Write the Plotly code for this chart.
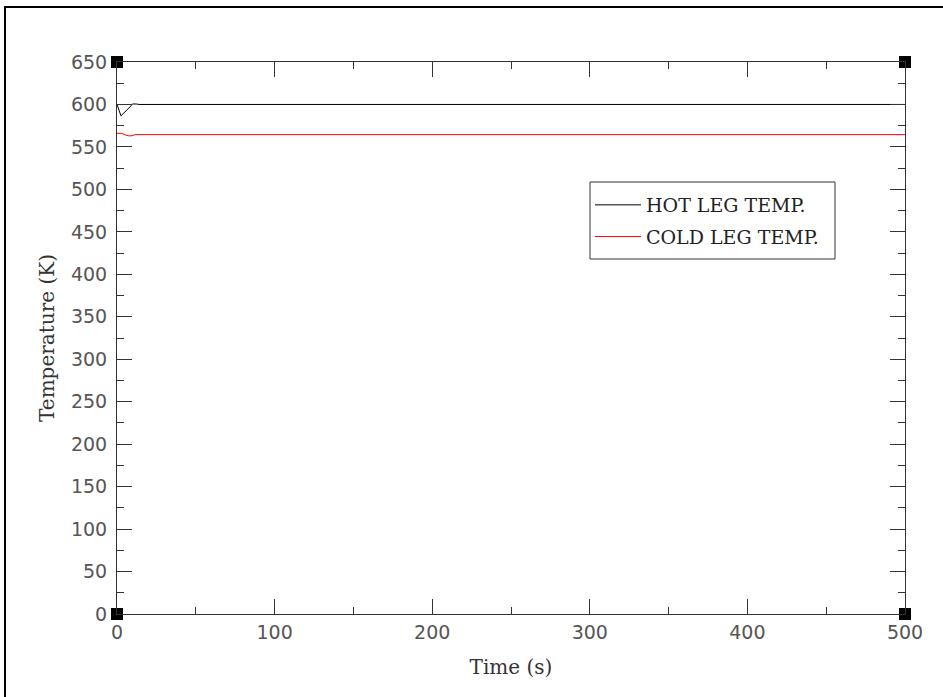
import plotly.graph_objects as go

# Loop temperatures over the 500 s transient
hot_time = [0, 2.5, 8.9, 9.8, 12.5, 14.0, 500]
hot_temp = [600.0, 586.6, 598.4, 600.6, 600.5, 600.0, 600.0]

cold_time = [0, 3.0, 5.5, 7.5, 9.5, 11.5, 500]
cold_temp = [566.0, 566.0, 564.0, 563.0, 563.2, 564.5, 564.5]

x_range = [0, 500]
y_range = [0, 650]
x_ticks = [0, 100, 200, 300, 400, 500]
y_ticks = list(range(0, 651, 50))

W, H = 943, 697
ML, MR, MT, MB = 117, 38, 62, 83
PW, PH = W - ML - MR, H - MT - MB


def px_x(p):
    return (p - ML) / PW


def px_y(p):
    return (H - MB - p) / PH


fig = go.Figure()
fig.add_trace(go.Scatter(x=hot_time, y=hot_temp, mode="lines", name="HOT LEG TEMP.",
                         line=dict(color="black", width=1), legendgroup="hot"))
fig.add_trace(go.Scatter(x=cold_time, y=cold_temp, mode="lines", name="COLD LEG TEMP.",
                         line=dict(color="red", width=1), legendgroup="cold"))

# Square markers at the four corners of the frame
fig.add_trace(go.Scatter(
    x=[x_range[0], x_range[0], x_range[1], x_range[1]],
    y=[y_range[0], y_range[1], y_range[0], y_range[1]],
    mode="markers", showlegend=False, hoverinfo="skip", cliponaxis=False,
    marker=dict(symbol="square", size=12, color="black")))

axis_common = dict(showgrid=False, zeroline=False, showline=True, linecolor="#333",
                   linewidth=1, mirror="ticks", ticks="inside", ticklen=15,
                   tickcolor="#333", tickwidth=1,
                   tickfont=dict(family="DejaVu Sans", size=19, color="#555"))
title_font = dict(family="DejaVu Serif", size=20, color="#333")

fig.update_xaxes(range=x_range, tickvals=x_ticks, ticklabelstandoff=1,
                 minor=dict(dtick=50, ticks="inside", ticklen=7, tickcolor="#333"),
                 title=dict(text="Time (s)", font=title_font, standoff=18),
                 **axis_common)
fig.update_yaxes(range=y_range, tickvals=y_ticks, ticklabelstandoff=5,
                 minor=dict(dtick=25, ticks="inside", ticklen=7, tickcolor="#333"),
                 title=dict(text="Temperature (K)", font=title_font, standoff=10),
                 **axis_common)

# Outer page frame
fig.add_shape(type="rect", xref="paper", yref="paper",
              x0=px_x(5), x1=1.3, y0=-0.3, y1=px_y(7),
              line=dict(color="black", width=2), layer="below")

# Legend box
fig.add_shape(type="rect", xref="paper", yref="paper",
              x0=px_x(590), x1=px_x(835), y0=px_y(259), y1=px_y(182),
              line=dict(color="#333", width=1), fillcolor="white", layer="below")

fig.update_layout(
    width=W, height=H,
    margin=dict(l=ML, r=MR, t=MT, b=MB),
    paper_bgcolor="white", plot_bgcolor="white",
    showlegend=True,
    legend=dict(x=px_x(590), y=px_y(186), xanchor="left", yanchor="top",
                borderwidth=0, bgcolor="rgba(0,0,0,0)",
                font=dict(family="DejaVu Serif", size=19, color="#222"),
                itemwidth=46, tracegroupgap=4),
)

fig.write_html("out.html")
